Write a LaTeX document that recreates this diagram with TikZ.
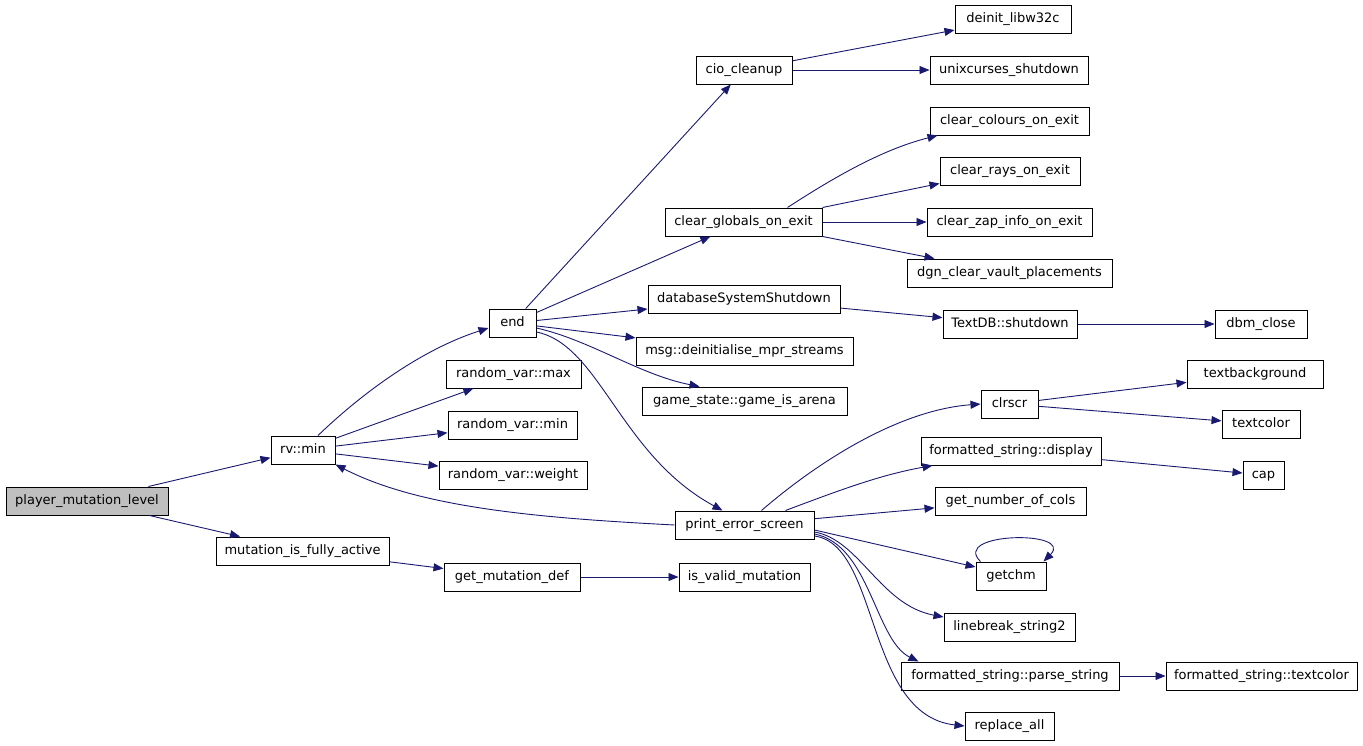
\documentclass[tikz,border=0pt]{standalone}
\usepackage{fontspec}
\setmainfont{DejaVu Sans}
\usetikzlibrary{arrows.meta,calc}
\definecolor{edgecol}{HTML}{191970}
\definecolor{rootfill}{HTML}{BFBFBF}
\begin{document}
\begin{tikzpicture}[x=1pt,y=-1pt,
  box/.style={draw=black,line width=1pt,fill=white,minimum height=28pt,inner xsep=3pt,inner ysep=0pt,
    font=\fontsize{13}{15}\selectfont,text height=10pt,text depth=3pt},
  cedge/.style={draw=edgecol,line width=0.9pt,-{Triangle[length=10pt,width=8pt]}}]
\useasboundingbox (0,0) rectangle (1363,745);
% nodes
\node[box,minimum width=162pt,fill=rootfill] (pml) at (87,501) {player\_mutation\_level};
\node[box,minimum width=64pt] (rvmin) at (303,450) {rv::min};
\node[box,minimum width=173pt] (mifa) at (302.5,551) {mutation\_is\_fully\_active};
\node[box,minimum width=47pt] (endn) at (512.5,323) {end};
\node[box,minimum width=135pt] (rvmax) at (513.5,374) {random\_var::max};
\node[box,minimum width=129pt] (rvmintwo) at (512.5,425) {random\_var::min};
\node[box,minimum width=148pt] (rvw) at (513,475) {random\_var::weight};
\node[box,minimum width=136pt] (gmd) at (512,577) {get\_mutation\_def};
\node[box,minimum width=131pt] (ivm) at (744.5,577) {is\_valid\_mutation};
\node[box,minimum width=139pt] (pes) at (744.5,525) {print\_error\_screen};
\node[box,minimum width=96pt] (cio) at (744,70) {cio\_cleanup};
\node[box,minimum width=157pt] (cgoe) at (743.5,222) {clear\_globals\_on\_exit};
\node[box,minimum width=192pt] (dss) at (744,299) {databaseSystemShutdown};
\node[box,minimum width=217pt] (msg) at (744.5,351) {msg::deinitialise\_mpr\_streams};
\node[box,minimum width=205pt] (gsa) at (744.5,401) {game\_state::game\_is\_arena};
\node[box,minimum width=116pt] (deinit) at (1013,19) {deinit\_libw32c};
\node[box,minimum width=158pt] (unix) at (1009,70) {unixcurses\_shutdown};
\node[box,minimum width=159pt] (ccol) at (1009.5,121) {clear\_colours\_on\_exit};
\node[box,minimum width=140pt] (crays) at (1010,171) {clear\_rays\_on\_exit};
\node[box,minimum width=165pt] (czap) at (1009.5,222) {clear\_zap\_info\_on\_exit};
\node[box,minimum width=205pt] (dgn) at (1009.5,273) {dgn\_clear\_vault\_placements};
\node[box,minimum width=134pt] (tdb) at (1010,324) {TextDB::shutdown};
\node[box,minimum width=92pt] (dbm) at (1261,324) {dbm\_close};
\node[box,minimum width=57pt] (clrscr) at (1009.5,404) {clrscr};
\node[box,minimum width=180pt] (fsd) at (1011,451) {formatted\_string::display};
\node[box,minimum width=151pt] (gnoc) at (1010.5,501) {get\_number\_of\_cols};
\node[box,minimum width=70pt] (getchm) at (1011,576) {getchm};
\node[box,minimum width=131pt] (lb) at (1009.5,627) {linebreak\_string2};
\node[box,minimum width=218pt] (fsp) at (1010,676) {formatted\_string::parse\_string};
\node[box,minimum width=89pt] (ra) at (1009.5,726) {replace\_all};
\node[box,minimum width=136pt] (tbg) at (1255,374) {textbackground};
\node[box,minimum width=78pt] (tc) at (1261,424) {textcolor};
\node[box,minimum width=41pt] (cap) at (1263.5,475) {cap};
\node[box,minimum width=191pt] (fst) at (1261.5,676) {formatted\_string::textcolor};
% edges
\draw[cedge] (pml) -- (rvmin);
\draw[cedge] (pml) -- (mifa);
\draw[cedge] ([xshift=15pt]rvmin.north) .. controls (360,395) and (420,350) .. ([yshift=-5pt]endn.west);
\draw[cedge] (rvmin) -- (rvmax);
\draw[cedge] (rvmin) -- (rvmintwo);
\draw[cedge] (rvmin) -- (rvw);
\draw[cedge] (pes.west) .. controls (540,518) and (420,508) .. (rvmin.south east);
\draw[cedge] (mifa) -- (gmd);
\draw[cedge] (gmd) -- (ivm);
\draw[cedge] (endn) -- (cio);
\draw[cedge] (endn) -- (cgoe);
\draw[cedge] (endn) -- (dss);
\draw[cedge] (endn) -- (msg);
\draw[cedge] ([yshift=-5pt]endn.east) .. controls (590,340) and (640,375) .. ([xshift=58pt]gsa.north west);
\draw[cedge] ([yshift=-9pt]endn.east) .. controls (600,345) and (620,455) .. ([xshift=-22pt]pes.north);
\draw[cedge] (cio) -- (deinit);
\draw[cedge] (cio) -- (unix);
\draw[cedge] ([xshift=44pt]cgoe.north) .. controls (830,180) and (880,150) .. ([xshift=8pt]ccol.south west);
\draw[cedge] (cgoe.north east) -- ([yshift=2pt]crays.south west);
\draw[cedge] (cgoe) -- (czap);
\draw[cedge] (cgoe.south east) -- ([xshift=28pt]dgn.north west);
\draw[cedge] (dss) -- (tdb);
\draw[cedge] (tdb) -- (dbm);
\draw[cedge] ([xshift=17pt]pes.north) .. controls (820,460) and (900,410) .. (clrscr.west);
\draw[cedge] ([xshift=41pt]pes.north) .. controls (840,490) and (880,475) .. ([xshift=12pt]fsd.south west);
\draw[cedge] (pes) -- (gnoc);
\draw[cedge] ([yshift=-5pt]pes.east) -- ([yshift=9pt]getchm.west);
\draw[cedge] ([yshift=-7pt]pes.east) .. controls (860,540) and (880,605) .. ([yshift=10pt]lb.west);
\draw[cedge] ([yshift=-9pt]pes.east) .. controls (870,545) and (875,640) .. ([xshift=18pt]fsp.north west);
\draw[cedge] ([yshift=-11pt]pes.east) .. controls (880,545) and (865,715) .. (ra.west);
\draw[cedge] ([xshift=5pt]getchm.north west) .. controls (950,532) and (1075,530) .. ([xshift=-3pt]getchm.north east);
\draw[cedge] (clrscr) -- (tbg);
\draw[cedge] (clrscr) -- (tc);
\draw[cedge] (fsd) -- (cap);
\draw[cedge] (fsp) -- (fst);
\end{tikzpicture}
\end{document}
